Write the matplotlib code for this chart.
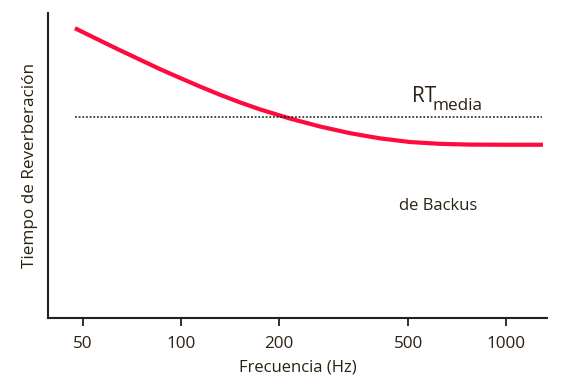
import matplotlib
matplotlib.use("Agg")
import matplotlib.pyplot as plt

freq = [47.2, 56.3, 64.9, 74.8, 86.2, 99.4, 114.4, 131.8, 151.9, 175, 216.4, 267.6, 331, 409.6, 506, 626, 775, 1000, 1299]
rt = [9.50, 9.10, 8.78, 8.47, 8.16, 7.87, 7.59, 7.32, 7.07, 6.84, 6.54, 6.28, 6.06, 5.89, 5.77, 5.71, 5.685, 5.68, 5.68]
rt_media = 6.60
media_range = [47.2, 1290]
xticks = [50, 100, 200, 500, 1000]
xticklabels = ["50", "100", "200", "500", "1000"]

txt = "#2a2112"
plt.rcParams['font.family'] = ['Open Sans', 'DejaVu Sans']

fig = plt.figure(figsize=(5.78, 3.92), dpi=100)
ax = fig.add_axes([48/578, 1-318/392, (547-48)/578, (318-13)/392])

ax.plot(freq, rt, color="#ff0a3c", lw=3.0, solid_capstyle="butt", solid_joinstyle="round")
ax.plot(media_range, [rt_media, rt_media], color="#1a1a1a", lw=1.1, linestyle=(0, (1.2, 1.2)))

ax.set_xscale("log")
ax.set_xlim(39, 1337)
ax.set_ylim(0, 10)
ax.set_xticks(xticks)
ax.set_xticklabels(xticklabels)
ax.xaxis.set_minor_locator(matplotlib.ticker.NullLocator())
ax.set_yticks([])
ax.tick_params(axis="x", direction="out", length=6, width=1.3, color="#231f20",
               labelsize=12.3, labelcolor=txt, pad=7)
for s in ["top", "right"]:
    ax.spines[s].set_visible(False)
for s in ["left", "bottom"]:
    ax.spines[s].set_color("#231f20")
    ax.spines[s].set_linewidth(1.5)

ax.set_xlabel("Frecuencia (Hz)", fontsize=12.0, color=txt, labelpad=5)
ax.set_ylabel("Tiempo de Reverberación", fontsize=12.3, color=txt, labelpad=7)

ax.text(514, 7.08, "RT", fontsize=15, color=txt, ha="left", va="baseline")
ax.text(596, 6.82, "media", fontsize=12.3, color=txt, ha="left", va="baseline")
ax.text(618, 3.54, "de Backus", fontsize=12.0, color=txt, ha="center", va="baseline")

fig.savefig("out.png", dpi=100)
